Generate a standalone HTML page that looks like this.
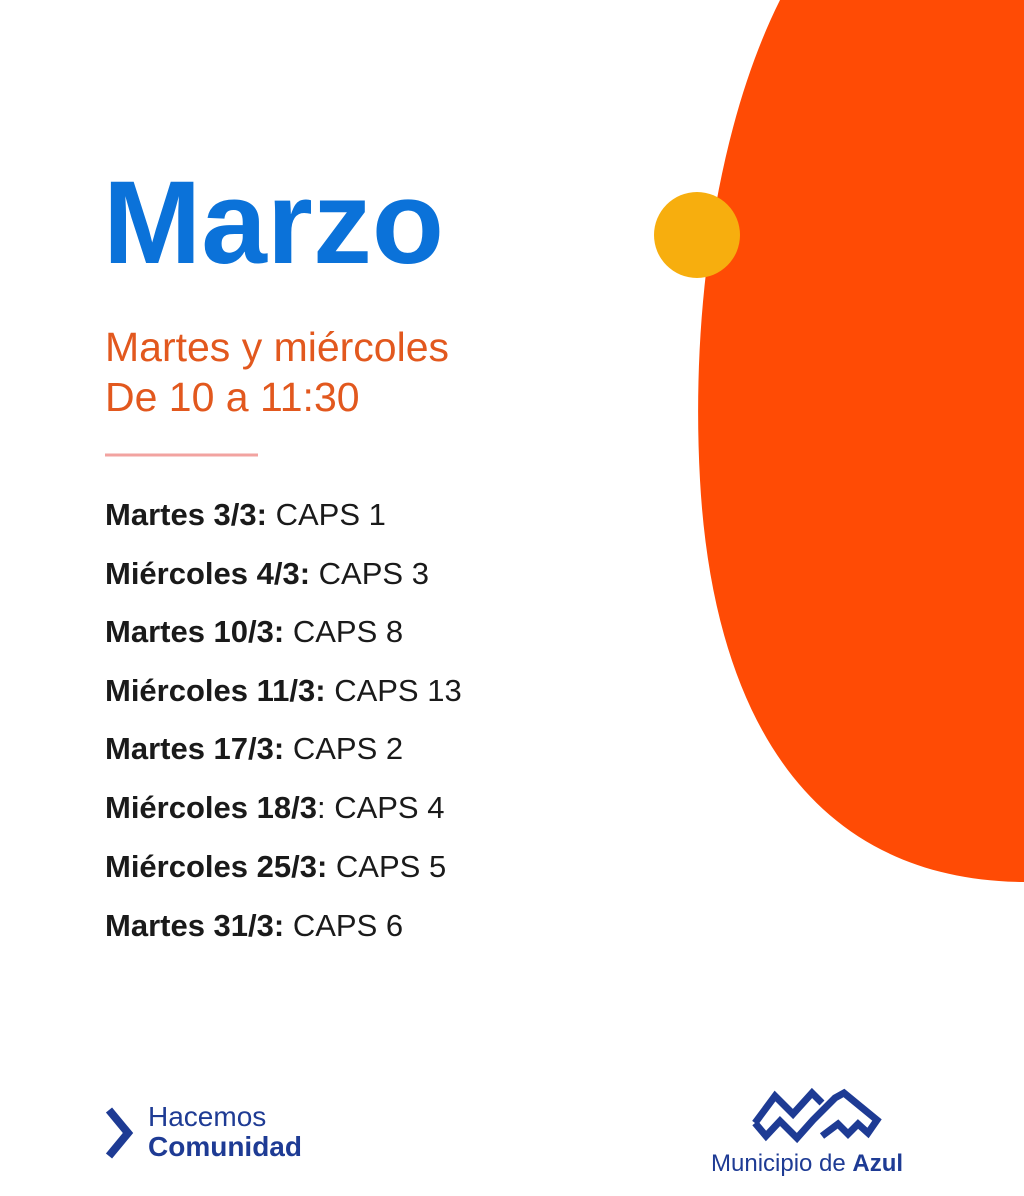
<!DOCTYPE html>
<html><head><meta charset="utf-8"><style>
html,body{margin:0;padding:0}
body{width:1024px;height:1196px;position:relative;overflow:hidden;background:#fff;font-family:"Liberation Sans",sans-serif}
.abs{position:absolute;white-space:nowrap}
.row{position:absolute;left:105px;font-size:31px;color:#1a1a1a;white-space:nowrap;line-height:1}
.row b{font-weight:bold}
</style></head><body>
<svg class="abs" style="left:0;top:0" width="1024" height="1196">
<path d="M780 0 C720 120 690 300 700 480 C712 700 800 880 1024 882 L1024 0 Z" fill="#ff4b05"/>
<circle cx="697" cy="235" r="43" fill="#f7ae0e"/>
<line x1="105" y1="455" x2="258" y2="455" stroke="#f2a3a0" stroke-width="3"/>
<polyline points="109,1110 128,1133 109,1156" fill="none" stroke="#1e3b94" stroke-width="8"/>
<g fill="none" stroke="#1e3b94" stroke-width="7" stroke-linejoin="miter">
<polyline points="755,1123 775,1096 793,1114 812,1093 822,1103"/>
<polyline points="755,1123 766,1136 780,1121 797,1138 813,1120 835,1098 844,1093 877,1120 868,1133 858,1124 848,1134 838,1124 822,1136"/>
</g>
</svg>
<div class="abs" style="left:103px;top:164px;font-size:118px;font-weight:bold;color:#0b72d9;line-height:1">Marzo</div>
<div class="abs" style="left:105px;top:322px;font-size:41px;color:#e2581e;line-height:50px">Martes y miércoles<br>De 10 a 11:30</div>
<div class="row" style="top:499px"><b>Martes 3/3:</b> CAPS 1</div>
<div class="row" style="top:558px"><b>Miércoles 4/3:</b> CAPS 3</div>
<div class="row" style="top:616px"><b>Martes 10/3:</b> CAPS 8</div>
<div class="row" style="top:675px"><b>Miércoles 11/3:</b> CAPS 13</div>
<div class="row" style="top:733px"><b>Martes 17/3:</b> CAPS 2</div>
<div class="row" style="top:792px"><b>Miércoles 18/3</b>: CAPS 4</div>
<div class="row" style="top:851px"><b>Miércoles 25/3:</b> CAPS 5</div>
<div class="row" style="top:910px"><b>Martes 31/3:</b> CAPS 6</div>
<div class="abs" style="left:148px;top:1102px;font-size:28px;color:#1e3b94;line-height:30px">Hacemos<br><b>Comunidad</b></div>
<div class="abs" style="left:711px;top:1152px;font-size:24px;color:#1e3b94;line-height:1">Municipio de <b>Azul</b></div>
</body></html>
